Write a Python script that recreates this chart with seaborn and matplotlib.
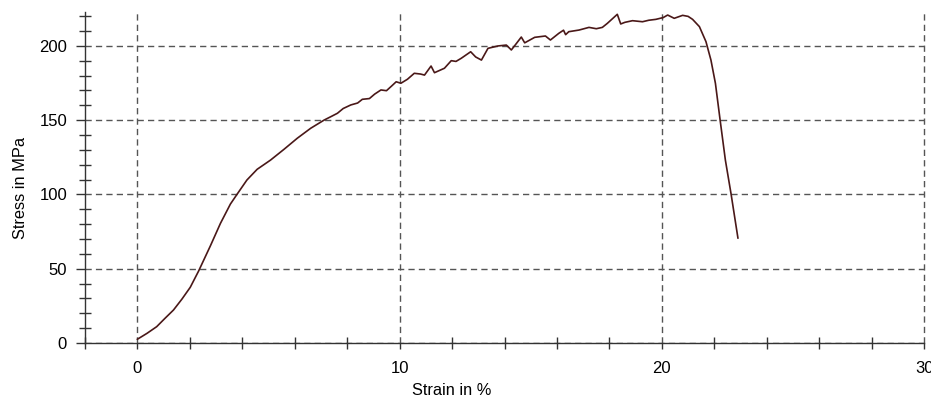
import numpy as np
import pandas as pd
import matplotlib
matplotlib.use("Agg")
import matplotlib.pyplot as plt
from matplotlib.ticker import MultipleLocator
import seaborn as sns

# values
strain = [0.0, 0.37, 0.74, 1.05, 1.38, 1.7, 2.02, 2.34, 2.79, 3.17, 3.55, 3.80,
          4.18, 4.57, 5.08, 5.59, 6.10, 6.61, 7.12, 7.40, 7.63, 7.85, 8.14, 8.40,
          8.58, 8.85, 9.05, 9.29, 9.50, 9.70, 9.87, 10.05, 10.30, 10.56, 10.80,
          10.95, 11.2, 11.33, 11.71, 11.97, 12.15, 12.35, 12.71, 12.90, 13.12,
          13.37, 13.75, 14.07, 14.26, 14.45, 14.64, 14.77, 15.15, 15.56, 15.75,
          16.07, 16.25, 16.33, 16.45, 16.84, 17.22, 17.50, 17.73, 17.92, 18.30,
          18.43, 18.59, 18.88, 19.26, 19.50, 19.77, 20.05, 20.22, 20.47, 20.79,
          21.0, 21.17, 21.43, 21.68, 21.87, 22.04, 22.22, 22.42, 22.64, 22.90]
stress = [2.5, 6.5, 11, 16.5, 22.2, 29.5, 37.5, 48.5, 65.5, 80.5, 93.5, 100,
          109.7, 116.9, 123.1, 130.3, 137.8, 144.5, 150, 152.5, 154.6, 157.8, 160.2, 161.5,
          164, 164.5, 167.5, 170.3, 169.8, 173, 175.8, 174.8, 177.5, 181.5, 181.0,
          180.3, 186.4, 181.9, 184.9, 190, 189.5, 191.6, 196, 192.5, 190.4,
          198.3, 199.9, 200.5, 197.2, 201.5, 205.9, 202, 205.7, 206.6, 203.9,
          208.4, 210.5, 207.5, 209.5, 210.6, 212.4, 211.5, 212.4, 215.1, 221.2,
          214.7, 215.8, 216.9, 216.2, 217.2, 217.8, 219.0, 220.7, 218.5, 220.5,
          219.8, 217.8, 212.9, 202.8, 190.4, 174.8, 150, 123.1, 100, 70.5]

df = pd.DataFrame({"Strain": strain, "Stress": stress})

sns.set_style("ticks")
plt.rcParams["font.family"] = ["Liberation Sans", "DejaVu Sans"]
plt.rcParams["text.color"] = "black"
plt.rcParams["axes.labelcolor"] = "black"

fig = plt.figure(figsize=(9.31, 4.01), dpi=100)
ax = fig.add_axes([0.0911, 0.1446, 0.9016, 0.8264])

sns.lineplot(data=df, x="Strain", y="Stress", sort=False, estimator=None,
             color="#4a1818", linewidth=1.2, ax=ax)
ax.lines[0].set_solid_joinstyle("round")

ax.set_xlim(-2, 30)
ax.set_ylim(0, 223)
ax.xaxis.set_major_locator(MultipleLocator(10))
ax.xaxis.set_minor_locator(MultipleLocator(2))
ax.yaxis.set_major_locator(MultipleLocator(50))
ax.yaxis.set_minor_locator(MultipleLocator(10))

ax.grid(True, which="major", linestyle=(0, (4.5, 3)), color="#555555", linewidth=1)
for s in ["top", "right"]:
    ax.spines[s].set_visible(False)
for s in ["left", "bottom"]:
    ax.spines[s].set_color("#333333")
    ax.spines[s].set_linewidth(1)

ax.tick_params(axis="x", which="major", direction="out", length=4.5, width=1,
               color="#333333", pad=8.3, labelsize=12, labelcolor="black")
ax.tick_params(axis="x", which="minor", direction="inout", length=9, width=1,
               color="#333333")
ax.tick_params(axis="y", which="major", direction="out", length=6.5, width=1,
               color="#333333", pad=6.3, labelsize=12, labelcolor="black")
ax.tick_params(axis="y", which="minor", direction="inout", length=8, width=1,
               color="#333333")

ax.set_xlabel("Strain in %", fontsize=11.8, va="center")
ax.set_ylabel("Stress in MPa", fontsize=11.8, va="center")
ax.xaxis.set_label_coords(0.4375, -0.142)
ax.yaxis.set_label_coords(-0.0772, 0.468)

# the grid line at 30 marks the right border, keep it whole
fig.canvas.draw()
for gl in ax.xaxis.get_gridlines():
    gl.set_clip_on(False)

plt.savefig("out.png", dpi=100)
